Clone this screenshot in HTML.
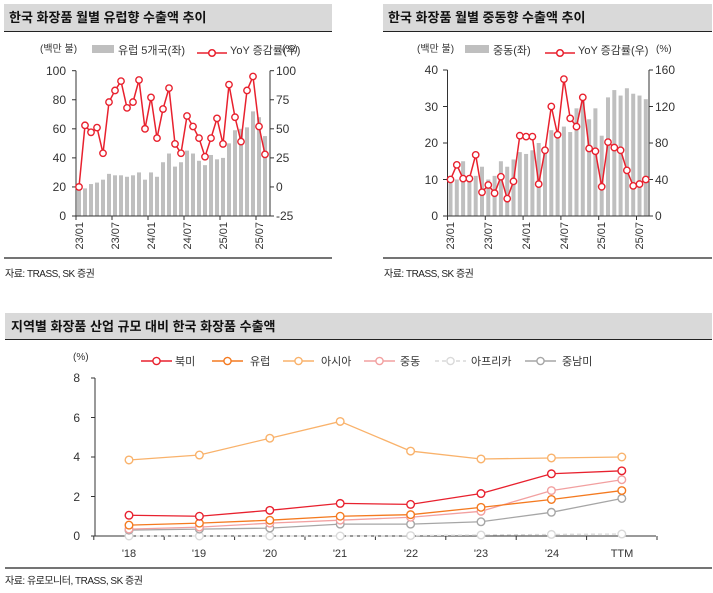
<!DOCTYPE html>
<html><head><meta charset="utf-8"><style>
html,body{margin:0;padding:0;background:#fff;}
svg{display:block;font-family:"Liberation Sans","Noto Sans CJK KR",sans-serif;}
</style></head><body>
<svg id="s" width="713" height="593" viewBox="0 0 713 593" xmlns="http://www.w3.org/2000/svg">
<!-- headers -->
<rect x="4" y="4" width="328" height="27" fill="#d9d9d9"/>
<line x1="4" y1="31.5" x2="332" y2="31.5" stroke="#222" stroke-width="1"/>
<text x="9" y="22" font-size="13" font-weight="bold" fill="#111">한국 화장품 월별 유럽향 수출액 추이</text>
<rect x="383" y="4" width="329" height="27" fill="#d9d9d9"/>
<line x1="383" y1="31.5" x2="712" y2="31.5" stroke="#222" stroke-width="1"/>
<text x="388" y="22" font-size="13" font-weight="bold" fill="#111">한국 화장품 월별 중동향 수출액 추이</text>

<line x1="4" y1="258" x2="332" y2="258" stroke="#222" stroke-width="1.2"/>
<line x1="383" y1="258" x2="712" y2="258" stroke="#222" stroke-width="1.2"/>
<text x="5" y="277" font-size="10" fill="#222" letter-spacing="-0.5">자료: TRASS, SK 증권</text>
<text x="384" y="277" font-size="10" fill="#222" letter-spacing="-0.5">자료: TRASS, SK 증권</text>

<rect x="5" y="313" width="707" height="26" fill="#d9d9d9"/>
<line x1="5" y1="339.5" x2="712" y2="339.5" stroke="#222" stroke-width="1"/>
<text x="11" y="331" font-size="13" font-weight="bold" fill="#111">지역별 화장품 산업 규모 대비 한국 화장품 수출액</text>
<line x1="5" y1="568" x2="712" y2="568" stroke="#222" stroke-width="1.2"/>
<text x="5" y="584" font-size="10" fill="#222" letter-spacing="-0.5">자료: 유로모니터, TRASS, SK 증권</text>

<!-- left chart text -->
<g font-size="12" fill="#333">
<text x="40" y="52" font-size="10">(백만 불)</text>
<rect x="92" y="45" width="22" height="8" fill="#bfbfbf"/>
<text x="118" y="54" font-size="11">유럽 5개국(좌)</text>
<line x1="197" y1="53" x2="227" y2="53" stroke="#e8212e" stroke-width="1.5"/>
<circle cx="212" cy="53" r="3.3" fill="#fff" stroke="#e8212e" stroke-width="1.5"/>
<text x="230" y="54" font-size="11">YoY 증감률(우)</text>
<text x="282" y="52" font-size="10">(%)</text>
<g text-anchor="end">
<text x="66" y="75">100</text><text x="66" y="104">80</text><text x="66" y="133">60</text><text x="66" y="162">40</text><text x="66" y="191">20</text><text x="66" y="220">0</text>
</g>
<text x="276" y="75">100</text><text x="276" y="104">75</text><text x="276" y="133">50</text><text x="276" y="162">25</text><text x="276" y="191">0</text><text x="276" y="220">-25</text>
</g>
<g font-size="11" fill="#333" text-anchor="end">
<text transform="translate(83,222) rotate(-90)">23/01</text>
<text transform="translate(119,222) rotate(-90)">23/07</text>
<text transform="translate(155,222) rotate(-90)">24/01</text>
<text transform="translate(191,222) rotate(-90)">24/07</text>
<text transform="translate(227,222) rotate(-90)">25/01</text>
<text transform="translate(263,222) rotate(-90)">25/07</text>
</g>

<!-- right chart text -->
<g font-size="12" fill="#333">
<text x="417" y="52" font-size="10">(백만 불)</text>
<rect x="465" y="45" width="24" height="8" fill="#bfbfbf"/>
<text x="493" y="54" font-size="11">중동(좌)</text>
<line x1="545" y1="53" x2="575" y2="53" stroke="#e8212e" stroke-width="1.5"/>
<circle cx="560" cy="53" r="3.3" fill="#fff" stroke="#e8212e" stroke-width="1.5"/>
<text x="578" y="54" font-size="11">YoY 증감률(우)</text>
<text x="656" y="52" font-size="10">(%)</text>
<g text-anchor="end">
<text x="438" y="74">40</text><text x="438" y="111">30</text><text x="438" y="147">20</text><text x="438" y="184">10</text><text x="438" y="220">0</text>
</g>
<text x="655" y="74">160</text><text x="655" y="111">120</text><text x="655" y="147">80</text><text x="655" y="184">40</text><text x="655" y="220">0</text>
</g>
<g font-size="11" fill="#333" text-anchor="end">
<text transform="translate(454,222) rotate(-90)">23/01</text>
<text transform="translate(492,222) rotate(-90)">23/07</text>
<text transform="translate(530,222) rotate(-90)">24/01</text>
<text transform="translate(568,222) rotate(-90)">24/07</text>
<text transform="translate(605,222) rotate(-90)">25/01</text>
<text transform="translate(643,222) rotate(-90)">25/07</text>
</g>

<!-- bottom chart text -->
<g font-size="11" fill="#333">
<text x="73" y="360" font-size="10">(%)</text>
<text x="175" y="365">북미</text><text x="250" y="365">유럽</text><text x="321" y="365">아시아</text>
<text x="400" y="365">중동</text><text x="471" y="365">아프리카</text><text x="562" y="365">중남미</text>
<g font-size="12" text-anchor="end">
<text x="80" y="382">8</text><text x="80" y="422">6</text><text x="80" y="461">4</text><text x="80" y="501">2</text><text x="80" y="540">0</text>
</g>
<g text-anchor="middle">
<text x="129" y="557">'18</text><text x="199" y="557">'19</text><text x="270" y="557">'20</text><text x="340" y="557">'21</text>
<text x="411" y="557">'22</text><text x="481" y="557">'23</text><text x="552" y="557">'24</text><text x="622" y="557">TTM</text>
</g>
</g>
<g id="dyn"></g>
</svg>
<script>
const NS="http://www.w3.org/2000/svg",g=document.getElementById("dyn");
function el(t,a){const e=document.createElementNS(NS,t);for(const k in a)e.setAttribute(k,a[k]);g.appendChild(e);return e;}
function axis(x1,y1,x2,y2,c){el("line",{x1,y1,x2,y2,stroke:c||"#333","stroke-width":1});}
function series(pts,col,r,dash,w){el("polyline",{points:pts.map(p=>p.join(",")).join(" "),fill:"none",stroke:col,"stroke-width":w||1.5,"stroke-dasharray":dash||"none"});
 pts.forEach(p=>el("circle",{cx:p[0],cy:p[1],r:r,fill:"#fff",stroke:col,"stroke-width":1.4}));}
// left
const lb=[20,19,22,23,25,29,28,28,27,28,30,25,30,27,37,43,34,37,45,43,38,35,42,39,40,50,59,60,61,72,68,55];
const ll=[0,53,47,51,29,73,83,91,68,73,92,50,77,42,67,85,37,29,61,52,42,26,42,59,37,88,60,39,83,95,52,28];
const y0=216,yt=70.7;
lb.forEach((v,i)=>{const h=v/100*(y0-yt);el("rect",{x:79+6*i-2,y:y0-h,width:4,height:h,fill:"#bfbfbf"});});
axis(76,yt,76,y0);axis(270,yt,270,y0);axis(76,y0,270,y0);
[0,20,40,60,80,100].forEach(v=>{const y=y0-v/100*(y0-yt);axis(72,y,76,y);});
[-25,0,25,50,75,100].forEach(v=>{const y=y0-(v+25)/125*(y0-yt);axis(270,y,274,y);});
for(let i=0;i<=32;i+=6)axis(76+6*i,y0,76+6*i,y0+4);
series(ll.map((v,i)=>[79+6*i,y0-(v+25)/125*(y0-yt)]),"#e8212e",3.2);
// right
const rb=[9,10,15,11,11,13.5,10,11,15,13.5,15.5,17.5,17,18,20,19,23.5,22,24.5,23,29.5,31.5,26.5,29.5,22,32.5,34.5,33,35,33.5,33,32];
const rl=[40,56,41,41,67,26,34,25,43,19,38,88,87,87,35,72,120,89,150,107,98,130,74,71,32,81,75,72,50,33,35,40];
const ry0=216,ryt=70;
rb.forEach((v,i)=>{const h=v/40*(ry0-ryt);el("rect",{x:450.5+6.3*i-2,y:ry0-h,width:4,height:h,fill:"#bfbfbf"});});
axis(447.5,ryt,447.5,ry0);axis(649,ryt,649,ry0);axis(447.5,ry0,649,ry0);
[0,10,20,30,40].forEach(v=>{const y=ry0-v/40*(ry0-ryt);axis(443,y,447.5,y);axis(649,y,653,y);});
for(let i=0;i<=32;i+=6)axis(447.5+6.3*i,ry0,447.5+6.3*i,ry0+4);
series(rl.map((v,i)=>[450.5+6.3*i,ry0-v/160*(ry0-ryt)]),"#e8212e",3.2);
// bottom
const by0=536,byt=378,X=i=>129+70.4*i,Y=v=>by0-v/8*(by0-byt);
axis(95,byt,95,by0);axis(95,by0,656,by0);
[0,2,4,6,8].forEach(v=>axis(91,Y(v),95,Y(v)));
for(let i=0;i<=8;i++)axis(X(i)-35.2,by0,X(i)-35.2,by0+4);
const S=[
 [[0,0,0,0,0.02,0.05,0.08,0.1],"#d9d9d9","4,3"],
 [[0.3,0.35,0.4,0.6,0.6,0.72,1.2,1.9],"#a6a6a6"],
 [[0.35,0.45,0.65,0.8,0.95,1.25,2.3,2.85],"#f2a0a0"],
 [[0.55,0.65,0.8,1.0,1.08,1.45,1.85,2.3],"#f47a20"],
 [[1.05,1.0,1.3,1.65,1.6,2.15,3.15,3.3],"#e8212e"],
 [[3.85,4.1,4.95,5.8,4.3,3.9,3.95,4.0],"#f9b26b"]];
S.forEach(s=>series(s[0].map((v,i)=>[X(i),Y(v)]),s[1],3.8,s[2],1.3));
// legend
[[141,"#e8212e"],[212,"#f47a20"],[283,"#f9b26b"],[364,"#f2a0a0"],[435,"#d9d9d9","4,3"],[525,"#a6a6a6"]].forEach(l=>{
 el("line",{x1:l[0],y1:361,x2:l[0]+31,y2:361,stroke:l[1],"stroke-width":1.5,"stroke-dasharray":l[2]||"none"});
 el("circle",{cx:l[0]+15.5,cy:361,r:3.6,fill:"#fff",stroke:l[1],"stroke-width":1.4});});
</script>
</body></html>
